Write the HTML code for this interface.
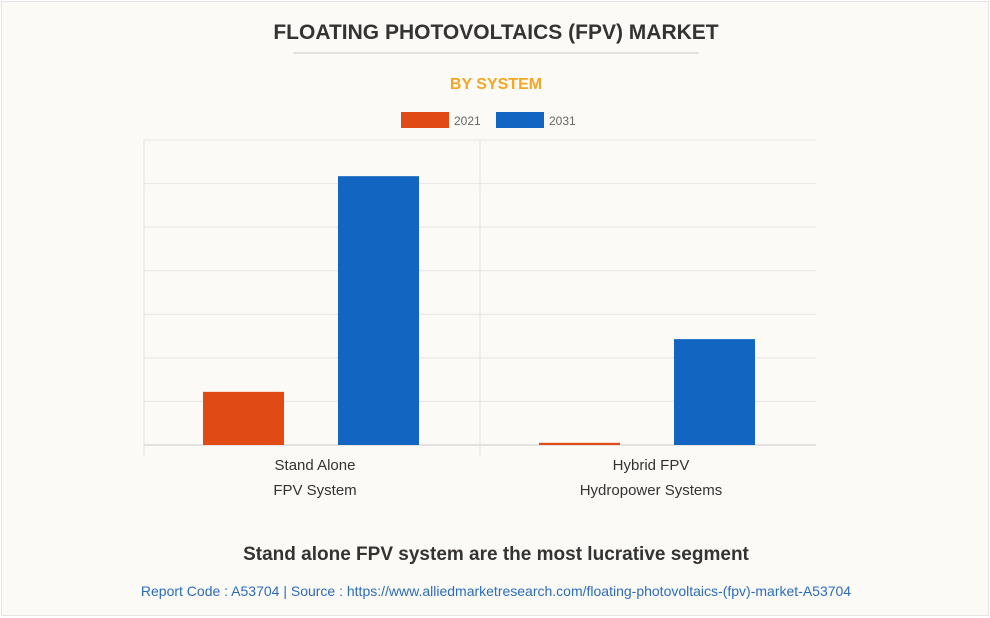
<!DOCTYPE html>
<html><head><meta charset="utf-8"><style>
body{margin:0;width:990px;height:617px;background:#fff;font-family:"Liberation Sans",Arial,sans-serif;}
#card{position:absolute;left:1px;top:1px;width:986px;height:613px;background:#fbfaf6;border:1px solid #e4e4e4;}
</style></head><body>
<div id="card">
<svg width="990" height="617" style="position:absolute;left:-1px;top:-1px">
<text x="495" y="38" text-anchor="middle" font-size="21" font-weight="bold" fill="#333">FLOATING PHOTOVOLTAICS (FPV) MARKET</text>
<line x1="292" x2="698" y1="52" y2="52" stroke="#ccc"/>
<text x="495" y="88" text-anchor="middle" font-size="16" font-weight="bold" fill="#f5a623">BY SYSTEM</text>
<g>
<rect x="400" y="111" width="48" height="16" fill="#e04a15"/>
<text x="453" y="124" font-size="12" fill="#666">2021</text>
<rect x="495" y="111" width="48" height="16" fill="#1266c2"/>
<text x="548" y="124" font-size="12" fill="#666">2031</text>
</g>
<g id="plot"></g>
<text x="495" y="559" text-anchor="middle" font-size="19" font-weight="bold" fill="#333">Stand alone FPV system are the most lucrative segment</text>
<text x="495" y="595" text-anchor="middle" font-size="14" fill="#2a6cc0">Report Code : A53704  |  Source : https://www.alliedmarketresearch.com/floating-photovoltaics-(fpv)-market-A53704</text>
</svg></div>
<script>
const categories=[["Stand Alone","FPV System"],["Hybrid FPV","Hydropower Systems"]];
const series2021=[1.22,0.05];
const series2031=[6.17,2.43];
const yMax=7, yTicks=[0,1,2,3,4,5,6,7];
const NS="http://www.w3.org/2000/svg";
const g=document.getElementById('plot');
const L=143,R=815,T=139,B=444;
const y=v=>B-(v/yMax)*(B-T);
const band=(R-L)/categories.length;
function mk(t,a){const e=document.createElementNS(NS,t);for(const k in a)e.setAttribute(k,a[k]);g.appendChild(e);return e;}
yTicks.forEach(t=>{const e=mk('line',{x1:L,x2:R,y1:y(t),y2:y(t),stroke:t===0?'#ccc':'#e6e6e6'});

});
[L,L+band].forEach(x=>{const e=mk('line',{x1:x,x2:x,y1:T,y2:B+10,stroke:'#e2e2e2'});

});
categories.forEach((c,i)=>{
 const x0=L+i*band;
 const b1=mk('rect',{x:x0+59,y:y(series2021[i]),width:81,height:B-y(series2021[i]),fill:'#e04a15'});
 
 
 const b2=mk('rect',{x:x0+194,y:y(series2031[i]),width:81,height:B-y(series2031[i]),fill:'#1266c2'});
 
 
 c.forEach((line,j)=>{const t=mk('text',{x:x0+band/2+3,y:469+j*25,'text-anchor':'middle','font-size':15,fill:'#333'});t.textContent=line;
 
 });
});
</script>
</body></html>
